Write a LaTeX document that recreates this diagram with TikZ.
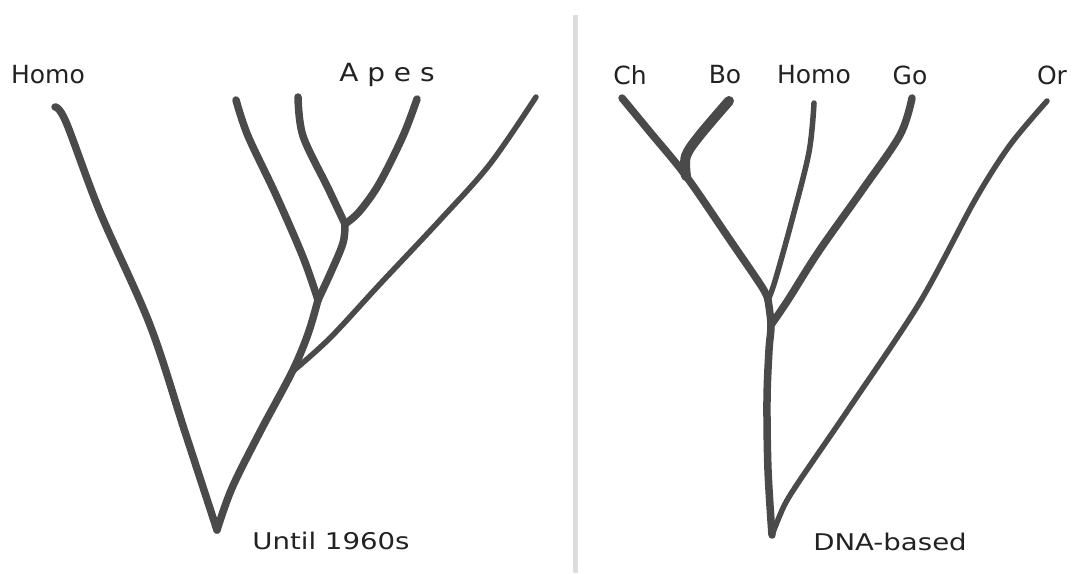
\documentclass[tikz,border=0pt]{standalone}
\usepackage{fontspec}
\setmainfont{DejaVu Sans}
\definecolor{branchgray}{HTML}{4A4A4A}
\definecolor{divgray}{HTML}{DDDDDD}
\definecolor{txtgray}{HTML}{222222}
\tikzset{
  branch/.style={draw=branchgray, line width=7.5pt, line cap=round, line join=round},
  thinbranch/.style={branch, line width=5.5pt},
  thickbranch/.style={branch, line width=10pt},
  toplabel/.style={text=txtgray, inner sep=0pt, font=\fontsize{25}{28}\selectfont},
  botlabel/.style={text=txtgray, inner sep=0pt, font=\fontsize{23}{26}\selectfont},
  divider/.style={draw=divgray, line width=5pt}
}
\begin{document}
\begin{tikzpicture}[x=1pt, y=-1pt]
\useasboundingbox (0,0) rectangle (1073,573);
\fill[white] (0,0) rectangle (1073,573);

% divider
\coordinate (divtop) at (575,15);
\coordinate (divbot) at (575,573);
\draw[divider] (divtop) -- (divbot);

% ---------- left tree ----------
\coordinate (L0) at (217,530);
\coordinate (jOr) at (292,372);
\coordinate (jA) at (318,300);
\coordinate (jB) at (345,224);
\coordinate (hL) at (55,107);
\coordinate (a1) at (236,100);
\coordinate (a2) at (298,97);
\coordinate (a3) at (417,99);
\coordinate (oL) at (536,97);

\draw[branch] plot[smooth, tension=0.55] coordinates {(hL) (66,122) (100,212) (150,325) (185,432) (L0)};
\draw[branch] plot[smooth, tension=0.55] coordinates {(L0) (232,488) (260,432) (jOr) (308,334) (jA)};
\draw[thinbranch] plot[smooth, tension=0.55] coordinates {(jOr) (330,338) (380,284) (441,219) (490,164) (oL)};
\draw[branch] plot[smooth, tension=0.55] coordinates {(a1) (248,136) (276,195) (303,257) (jA)};
\draw[branch] plot[smooth, tension=0.55] coordinates {(jA) (331,272) (343,243) (jB)};
\draw[branch] plot[smooth, tension=0.55] coordinates {(a2) (303,136) (328,188) (jB)};
\draw[branch] plot[smooth, tension=0.55] coordinates {(jB) (359,212) (379,184) (403,136) (a3)};

\node[toplabel] (homoL) at (48,75) {Homo};
\node[toplabel] (apes) at (387,75) {\scalebox{1.12}[1]{A p e s}};
\node[botlabel] (until) at (331,541) {\scalebox{1.2}[1]{Until 1960s}};

% ---------- right tree ----------
\coordinate (R0) at (772,535);
\coordinate (jGo) at (771,325);
\coordinate (jCH) at (768,300);
\coordinate (jBo) at (686,176);
\coordinate (chT) at (622,98);
\coordinate (boT) at (729,101);
\coordinate (hoT) at (814,103);
\coordinate (goT) at (912,98);
\coordinate (orT) at (1047,101);

\draw[branch] plot[smooth, tension=0.55] coordinates {(R0) (768,470) (767,400) (769,350) (jGo) (jCH)};
\draw[thinbranch] plot[smooth, tension=0.5] coordinates {(R0) (784,506) (800,480) (850,407) (920,302) (975,200) (1010,145) (orT)};
\draw[branch] plot[smooth, tension=0.55] coordinates {(jGo) (788,300) (819,251) (863,189) (900,135) (goT)};
\draw[thinbranch] plot[smooth, tension=0.55] coordinates {(jCH) (775,281) (792,220) (809,152) (hoT)};
\draw[branch] plot[smooth, tension=0.55] coordinates {(jCH) (762,287) (730,240) (jBo) (650,132) (chT)};
\draw[thickbranch] plot[smooth, tension=0.55] coordinates {(jBo) (686,156) (700,135) (boT)};

\node[toplabel] (ch) at (630,75) {Ch};
\node[toplabel] (bo) at (725,75) {Bo};
\node[toplabel] (homoR) at (814,75) {Homo};
\node[toplabel] (go) at (910,75) {Go};
\node[toplabel] (or) at (1052,75) {Or};
\node[botlabel] (dna) at (890,542) {\scalebox{1.2}[1]{DNA-based}};
\end{tikzpicture}
\end{document}
